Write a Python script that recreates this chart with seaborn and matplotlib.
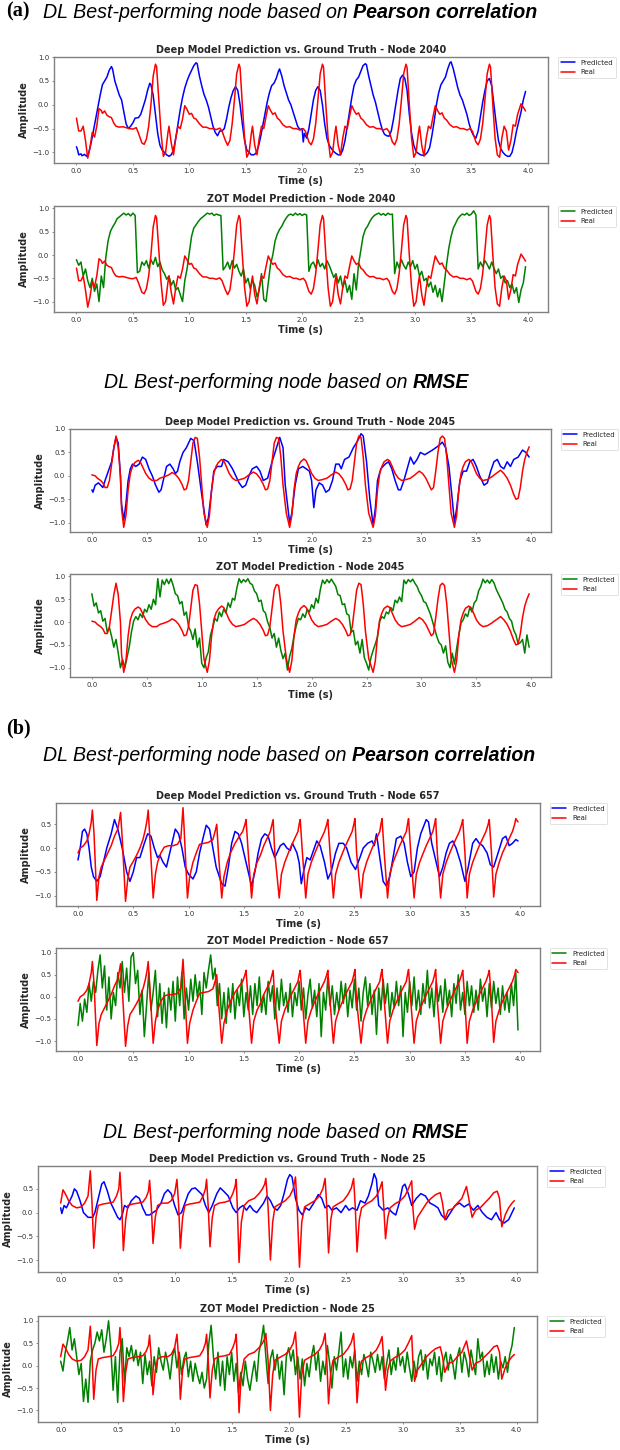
import numpy as np
import matplotlib
matplotlib.use("Agg")
import matplotlib.pyplot as plt
import seaborn as sns

# ---------------------------------------------------------------
# Data (time in s, amplitude)
# ---------------------------------------------------------------

# node 2040 -- ground truth
real_2040 = [
    (0.00, -0.28), (0.02, -0.55), (0.04, -0.55), (0.06, -0.45), (0.08, -0.75), (0.10, -1.12),
    (0.12, -0.90), (0.14, -0.58), (0.16, -0.68), (0.18, -0.45), (0.20, -0.08), (0.22, -0.12),
    (0.23, -0.18), (0.25, -0.13), (0.27, -0.22), (0.29, -0.25), (0.31, -0.27), (0.33, -0.38),
    (0.35, -0.45), (0.38, -0.47), (0.41, -0.46), (0.44, -0.48), (0.47, -0.50), (0.50, -0.51),
    (0.53, -0.48), (0.55, -0.60), (0.58, -0.80), (0.60, -0.83), (0.62, -0.72), (0.64, -0.45),
    (0.66, 0.00), (0.68, 0.60), (0.70, 0.85), (0.71, 0.80), (0.73, 0.10), (0.75, -0.60),
    (0.77, -1.08), (0.79, -1.00), (0.81, -0.60), (0.82, -0.45), (0.84, -0.80), (0.86, -1.05),
    (0.88, -0.70), (0.90, -0.45), (0.92, -0.50), (0.94, -0.30), (0.96, -0.02), (0.98, -0.10),
    (1.00, -0.20), (1.02, -0.18), (1.04, -0.28), (1.06, -0.30), (1.09, -0.40), (1.12, -0.47),
    (1.15, -0.47), (1.18, -0.50), (1.21, -0.50), (1.24, -0.52), (1.27, -0.49), (1.29, -0.55),
    (1.32, -0.75), (1.34, -0.85), (1.36, -0.75), (1.38, -0.40), (1.40, 0.10), (1.42, 0.65),
    (1.44, 0.85), (1.45, 0.78), (1.47, 0.00), (1.49, -0.70), (1.51, -1.10), (1.53, -1.00),
    (1.55, -0.60), (1.56, -0.45), (1.58, -0.85), (1.60, -1.05), (1.62, -0.70), (1.64, -0.45),
    (1.66, -0.50), (1.68, -0.25), (1.70, -0.02), (1.72, -0.12), (1.74, -0.20), (1.76, -0.17),
    (1.78, -0.28), (1.80, -0.32), (1.83, -0.42), (1.86, -0.47), (1.89, -0.46), (1.92, -0.50),
    (1.95, -0.50), (1.98, -0.53), (2.01, -0.50), (2.03, -0.56), (2.06, -0.78), (2.08, -0.84),
    (2.10, -0.72), (2.12, -0.40), (2.14, 0.10), (2.16, 0.65), (2.18, 0.85), (2.19, 0.78),
    (2.21, 0.00), (2.23, -0.70), (2.25, -1.10), (2.27, -1.00), (2.29, -0.60), (2.30, -0.45),
    (2.32, -0.85), (2.34, -1.05), (2.36, -0.70), (2.38, -0.45), (2.40, -0.50), (2.42, -0.25),
    (2.44, -0.02), (2.46, -0.12), (2.48, -0.20), (2.50, -0.17), (2.52, -0.28), (2.54, -0.32),
    (2.57, -0.42), (2.60, -0.47), (2.63, -0.46), (2.66, -0.50), (2.69, -0.50), (2.72, -0.53),
    (2.75, -0.50), (2.77, -0.56), (2.80, -0.78), (2.82, -0.84), (2.84, -0.72), (2.86, -0.40),
    (2.88, 0.10), (2.90, 0.65), (2.92, 0.85), (2.93, 0.78), (2.95, 0.00), (2.97, -0.70),
    (2.99, -1.10), (3.01, -1.00), (3.03, -0.60), (3.04, -0.45), (3.06, -0.85), (3.08, -1.08),
    (3.10, -0.70), (3.12, -0.45), (3.14, -0.50), (3.16, -0.25), (3.18, -0.02), (3.20, -0.12),
    (3.22, -0.20), (3.24, -0.17), (3.26, -0.28), (3.28, -0.32), (3.31, -0.42), (3.34, -0.47),
    (3.37, -0.46), (3.40, -0.50), (3.43, -0.50), (3.46, -0.53), (3.49, -0.50), (3.51, -0.56),
    (3.54, -0.78), (3.56, -0.84), (3.58, -0.72), (3.60, -0.40), (3.62, 0.10), (3.64, 0.65),
    (3.66, 0.85), (3.67, 0.78), (3.69, 0.00), (3.71, -0.70), (3.73, -1.05), (3.75, -1.10),
    (3.77, -0.70), (3.79, -0.45), (3.81, -0.55), (3.83, -0.95), (3.85, -0.75), (3.87, -0.42),
    (3.89, -0.45), (3.91, -0.20), (3.94, 0.02), (3.96, -0.05), (3.98, -0.13),
]

# node 2040 -- deep model
deep_2040 = [
    (0.00, -0.88), (0.01, -0.95), (0.02, -1.05), (0.04, -1.03), (0.05, -1.07), (0.07, -1.04),
    (0.09, -1.08), (0.11, -1.00), (0.13, -0.80), (0.15, -0.55), (0.17, -0.30), (0.19, -0.05),
    (0.21, 0.20), (0.23, 0.42), (0.25, 0.50), (0.27, 0.58), (0.29, 0.72), (0.31, 0.80),
    (0.32, 0.75), (0.34, 0.50), (0.36, 0.35), (0.38, 0.20), (0.40, 0.10), (0.42, -0.15),
    (0.44, -0.40), (0.46, -0.50), (0.48, -0.45), (0.50, -0.38), (0.52, -0.28), (0.55, -0.27),
    (0.57, -0.20), (0.59, -0.05), (0.61, 0.10), (0.63, 0.30), (0.65, 0.45), (0.66, 0.42),
    (0.68, 0.20), (0.70, -0.20), (0.72, -0.60), (0.74, -0.85), (0.76, -0.95), (0.78, -1.00),
    (0.80, -1.05), (0.82, -1.08), (0.84, -1.05), (0.86, -0.95), (0.88, -0.70), (0.90, -0.40),
    (0.92, -0.10), (0.94, 0.15), (0.96, 0.35), (0.98, 0.50), (1.00, 0.62), (1.02, 0.72),
    (1.04, 0.82), (1.06, 0.88), (1.07, 0.86), (1.09, 0.60), (1.11, 0.40), (1.13, 0.22),
    (1.15, 0.10), (1.17, -0.05), (1.19, -0.25), (1.21, -0.45), (1.23, -0.58), (1.25, -0.65),
    (1.27, -0.55), (1.29, -0.55), (1.31, -0.50), (1.33, -0.30), (1.35, -0.05), (1.37, 0.15),
    (1.39, 0.30), (1.41, 0.38), (1.43, 0.30), (1.45, 0.00), (1.47, -0.40), (1.49, -0.75),
    (1.51, -0.95), (1.53, -1.00), (1.55, -1.05), (1.57, -1.05), (1.59, -1.02), (1.61, -0.90),
    (1.63, -0.70), (1.65, -0.45), (1.67, -0.20), (1.69, 0.05), (1.71, 0.25), (1.73, 0.40),
    (1.75, 0.45), (1.77, 0.55), (1.79, 0.70), (1.80, 0.75), (1.82, 0.60), (1.84, 0.40),
    (1.86, 0.25), (1.88, 0.10), (1.90, 0.00), (1.92, -0.15), (1.94, -0.30), (1.96, -0.45),
    (1.98, -0.52), (2.00, -0.50), (2.01, -0.78), (2.02, -0.60), (2.04, -0.70), (2.06, -0.50),
    (2.08, -0.20), (2.10, 0.10), (2.12, 0.30), (2.14, 0.38), (2.16, 0.30), (2.18, 0.00),
    (2.20, -0.40), (2.22, -0.70), (2.24, -0.85), (2.26, -0.92), (2.28, -0.98), (2.30, -1.02),
    (2.32, -1.05), (2.34, -1.05), (2.36, -0.95), (2.38, -0.75), (2.40, -0.45), (2.42, -0.15),
    (2.44, 0.15), (2.46, 0.40), (2.48, 0.52), (2.50, 0.58), (2.52, 0.70), (2.54, 0.82),
    (2.56, 0.86), (2.57, 0.84), (2.59, 0.60), (2.61, 0.40), (2.63, 0.20), (2.65, 0.05),
    (2.67, -0.15), (2.69, -0.35), (2.71, -0.52), (2.73, -0.62), (2.75, -0.65), (2.77, -0.66),
    (2.79, -0.55), (2.81, -0.30), (2.83, 0.00), (2.85, 0.30), (2.87, 0.55), (2.89, 0.62),
    (2.91, 0.55), (2.93, 0.30), (2.95, -0.20), (2.97, -0.60), (2.99, -0.85), (3.01, -0.98),
    (3.03, -1.02), (3.05, -1.05), (3.07, -1.06), (3.09, -1.05), (3.11, -1.00), (3.13, -0.90),
    (3.15, -0.65), (3.17, -0.35), (3.19, 0.00), (3.21, 0.25), (3.23, 0.42), (3.25, 0.50),
    (3.27, 0.58), (3.29, 0.75), (3.31, 0.88), (3.32, 0.90), (3.34, 0.75), (3.36, 0.55),
    (3.38, 0.35), (3.40, 0.20), (3.42, 0.10), (3.44, -0.05), (3.46, -0.20), (3.48, -0.40),
    (3.50, -0.55), (3.52, -0.65), (3.54, -0.70), (3.56, -0.55), (3.58, -0.25), (3.60, 0.05),
    (3.62, 0.30), (3.64, 0.50), (3.66, 0.55), (3.68, 0.40), (3.70, 0.00), (3.72, -0.40),
    (3.74, -0.75), (3.76, -0.92), (3.78, -1.00), (3.80, -1.05), (3.82, -1.08), (3.84, -1.08),
    (3.86, -1.00), (3.88, -0.80), (3.90, -0.55), (3.92, -0.35), (3.94, -0.15), (3.96, 0.10),
    (3.98, 0.28),
]

# node 2040 -- ZOT model, one value every 0.02 s
zot_2040 = [
    -0.10, -0.22, -0.15, -0.45, -0.30, -0.55, -0.70, -0.50, -0.78, -0.62,
    -1.00, -0.45, -0.70, -0.05, 0.30, 0.50, 0.60, 0.68, 0.78, 0.82,
    0.86, 0.90, 0.86, 0.89, 0.84, 0.90, 0.85, -0.38, -0.35, -0.15,
    -0.22, -0.12, -0.28, -0.10, -0.20, -0.05, -0.25, -0.15, -0.32, -0.40,
    -0.52, -0.45, -0.65, -0.55, -0.75, -0.70, -0.85, -1.00, -0.55, -0.30,
    0.05, 0.40, 0.58, 0.65, 0.72, 0.78, 0.82, 0.86, 0.90, 0.88,
    0.90, 0.85, 0.88, 0.86, 0.85, -0.32, -0.25, -0.15, -0.30, -0.12,
    -0.28, -0.20, -0.35, -0.45, -0.30, -0.60, -0.50, -0.72, -0.55, -0.65,
    -0.90, -0.75, -0.40, -0.95, -1.00, -0.60, -0.20, 0.00, 0.30, 0.45,
    0.55, 0.62, 0.72, 0.80, 0.86, 0.88, 0.85, 0.90, 0.86, 0.89,
    0.85, 0.88, 0.86, -0.35, -0.20, -0.15, -0.28, -0.10, -0.25, -0.18,
    -0.30, -0.12, -0.22, -0.35, -0.48, -0.40, -0.60, -0.45, -0.70, -0.55,
    -0.80, -0.65, -0.95, -0.40, -0.75, -0.20, 0.10, 0.40, 0.55, 0.62,
    0.72, 0.80, 0.85, 0.88, 0.90, 0.86, 0.89, 0.85, 0.90, 0.87,
    0.88, -0.40, -0.15, -0.28, -0.10, -0.22, -0.30, -0.15, -0.25, -0.12,
    -0.30, -0.20, -0.45, -0.35, -0.55, -0.50, -0.68, -0.58, -0.80, -0.65,
    -0.90, -0.72, -1.00, -0.60, -0.20, 0.15, 0.40, 0.58, 0.68, 0.78,
    0.84, 0.88, 0.86, 0.90, 0.85, 0.88, 0.95, 0.86, -0.30, -0.15,
    -0.25, -0.12, -0.20, -0.30, -0.15, -0.28, -0.40, -0.30, -0.50, -0.45,
    -0.60, -0.55, -0.70, -0.62, -0.82, -0.70, -1.02, -0.75, -0.60, -0.25,
]

# node 2045 -- ground truth
real_2045 = [
    (0.00, 0.02), (0.03, 0.00), (0.05, -0.05), (0.08, -0.10), (0.10, -0.15), (0.12, -0.25),
    (0.14, -0.25), (0.16, -0.10), (0.18, 0.25), (0.20, 0.60), (0.22, 0.85), (0.24, 0.60),
    (0.26, 0.00), (0.27, -0.70), (0.29, -1.10), (0.31, -0.85), (0.33, -0.30), (0.35, 0.05),
    (0.37, 0.20), (0.39, 0.28), (0.42, 0.33), (0.44, 0.30), (0.46, 0.20), (0.49, 0.05),
    (0.52, -0.05), (0.55, -0.10), (0.59, -0.10), (0.62, -0.05), (0.66, -0.02), (0.70, 0.02),
    (0.73, 0.07), (0.76, 0.03), (0.79, -0.05), (0.82, -0.18), (0.84, -0.30), (0.86, -0.28),
    (0.88, -0.10), (0.90, 0.30), (0.92, 0.70), (0.94, 0.82), (0.96, 0.80), (0.98, 0.40),
    (1.00, -0.20), (1.02, -0.80), (1.05, -1.10), (1.07, -0.85), (1.09, -0.30), (1.11, 0.05),
    (1.13, 0.20), (1.15, 0.28), (1.18, 0.35), (1.20, 0.32), (1.22, 0.22), (1.25, 0.05),
    (1.28, -0.05), (1.31, -0.10), (1.35, -0.08), (1.39, -0.05), (1.43, 0.02), (1.47, 0.08),
    (1.50, 0.04), (1.53, -0.05), (1.56, -0.18), (1.58, -0.30), (1.60, -0.28), (1.62, -0.10),
    (1.64, 0.30), (1.66, 0.70), (1.68, 0.82), (1.70, 0.80), (1.72, 0.40), (1.74, -0.20),
    (1.77, -0.80), (1.80, -1.10), (1.82, -0.85), (1.84, -0.30), (1.86, 0.05), (1.88, 0.20),
    (1.90, 0.30), (1.93, 0.36), (1.95, 0.32), (1.97, 0.22), (2.00, 0.05), (2.03, -0.05),
    (2.06, -0.10), (2.10, -0.08), (2.14, -0.05), (2.18, 0.02), (2.22, 0.08), (2.25, 0.04),
    (2.28, -0.05), (2.31, -0.18), (2.33, -0.30), (2.35, -0.28), (2.37, -0.10), (2.39, 0.30),
    (2.41, 0.70), (2.43, 0.85), (2.45, 0.82), (2.47, 0.40), (2.49, -0.20), (2.52, -0.80),
    (2.56, -1.10), (2.58, -0.85), (2.60, -0.30), (2.62, 0.05), (2.64, 0.20), (2.66, 0.30),
    (2.69, 0.35), (2.71, 0.32), (2.73, 0.22), (2.76, 0.05), (2.79, -0.05), (2.82, -0.10),
    (2.86, -0.08), (2.90, -0.05), (2.94, 0.02), (2.98, 0.10), (3.01, 0.05), (3.04, -0.05),
    (3.07, -0.20), (3.09, -0.30), (3.11, -0.25), (3.13, 0.10), (3.15, 0.50), (3.17, 0.80),
    (3.19, 0.85), (3.21, 0.80), (3.23, 0.40), (3.25, -0.20), (3.27, -0.80), (3.30, -1.10),
    (3.32, -0.85), (3.34, -0.30), (3.36, 0.05), (3.38, 0.20), (3.40, 0.30), (3.43, 0.35),
    (3.45, 0.32), (3.47, 0.22), (3.50, 0.05), (3.53, -0.05), (3.56, -0.10), (3.60, -0.08),
    (3.64, -0.02), (3.68, 0.05), (3.72, 0.12), (3.75, 0.05), (3.78, -0.05), (3.81, -0.20),
    (3.84, -0.40), (3.86, -0.50), (3.88, -0.48), (3.90, -0.25), (3.92, 0.10), (3.94, 0.35),
    (3.96, 0.50), (3.98, 0.62),
]

# node 2045 -- deep model
deep_2045 = [
    (0.00, -0.30), (0.01, -0.35), (0.03, -0.20), (0.06, -0.15), (0.08, -0.20), (0.10, -0.25),
    (0.12, -0.10), (0.15, 0.10), (0.18, 0.30), (0.20, 0.60), (0.22, 0.82), (0.24, 0.70),
    (0.26, 0.00), (0.27, -0.60), (0.29, -0.95), (0.31, -0.60), (0.33, -0.10), (0.35, 0.15),
    (0.37, 0.25), (0.40, 0.20), (0.43, 0.25), (0.46, 0.40), (0.49, 0.35), (0.52, 0.15),
    (0.55, 0.00), (0.58, -0.20), (0.61, -0.35), (0.63, -0.30), (0.65, -0.10), (0.68, 0.20),
    (0.71, 0.25), (0.74, 0.15), (0.76, 0.05), (0.78, 0.10), (0.80, 0.30), (0.83, 0.50),
    (0.86, 0.60), (0.90, 0.80), (0.93, 0.75), (0.96, 0.30), (1.00, -0.40), (1.04, -1.05),
    (1.06, -0.90), (1.09, -0.30), (1.11, 0.10), (1.14, 0.20), (1.18, 0.20), (1.20, 0.35),
    (1.24, 0.30), (1.28, 0.15), (1.31, 0.00), (1.34, -0.15), (1.37, -0.25), (1.40, -0.20),
    (1.43, 0.00), (1.46, 0.15), (1.50, 0.20), (1.53, 0.10), (1.56, -0.10), (1.60, -0.05),
    (1.64, 0.30), (1.68, 0.60), (1.71, 0.82), (1.74, 0.60), (1.76, -0.20), (1.80, -1.00),
    (1.82, -0.80), (1.85, -0.20), (1.88, 0.15), (1.92, 0.20), (1.95, 0.15), (1.98, 0.10),
    (2.00, -0.10), (2.02, -0.68), (2.04, -0.30), (2.07, -0.15), (2.10, -0.20), (2.13, -0.35),
    (2.16, -0.30), (2.19, -0.10), (2.22, 0.25), (2.25, 0.25), (2.27, 0.15), (2.30, 0.35),
    (2.34, 0.40), (2.38, 0.60), (2.42, 0.75), (2.45, 0.90), (2.47, 0.85), (2.50, 0.30),
    (2.53, -0.50), (2.56, -1.05), (2.58, -0.70), (2.60, -0.10), (2.63, 0.15), (2.67, 0.25),
    (2.70, 0.30), (2.73, 0.15), (2.76, -0.10), (2.79, -0.30), (2.81, -0.30), (2.84, -0.10),
    (2.87, 0.15), (2.90, 0.40), (2.93, 0.25), (2.96, 0.35), (2.99, 0.50), (3.03, 0.45),
    (3.10, 0.55), (3.16, 0.65), (3.19, 0.72), (3.22, 0.60), (3.25, 0.20), (3.28, -0.50),
    (3.30, -1.00), (3.32, -0.70), (3.35, -0.10), (3.38, 0.10), (3.41, 0.10), (3.44, 0.30),
    (3.47, 0.35), (3.50, 0.20), (3.53, 0.00), (3.57, -0.20), (3.60, -0.15), (3.63, 0.10),
    (3.66, 0.30), (3.69, 0.35), (3.72, 0.20), (3.75, 0.15), (3.78, 0.30), (3.81, 0.20),
    (3.84, 0.35), (3.88, 0.40), (3.92, 0.55), (3.95, 0.50), (3.98, 0.40),
]

# node 2045 -- ZOT model, one value every 0.02 s
zot_2045 = [
    0.62, 0.35, 0.42, 0.20, 0.25, 0.02, 0.08, -0.22, -0.12, -0.32,
    -0.55, -0.38, -0.68, -1.00, -0.82, -1.00, -0.78, -0.55, -0.22, 0.02,
    0.12, 0.05, 0.18, 0.10, 0.28, 0.22, 0.38, 0.28, 0.50, 0.38,
    0.95, 0.55, 0.92, 0.82, 0.94, 0.84, 0.95, 0.80, 0.62, 0.58,
    0.40, 0.45, 0.15, 0.22, -0.10, -0.20, -0.38, -0.15, -0.55, -0.35,
    -0.90, -1.00, -0.78, -0.65, -0.28, -0.12, 0.08, 0.02, 0.22, 0.12,
    0.28, 0.20, 0.42, 0.32, 0.52, 0.48, 0.75, 0.95, 0.86, 0.93,
    0.88, 0.95, 0.85, 0.82, 0.68, 0.62, 0.45, 0.48, 0.25, 0.20,
    0.00, -0.12, -0.35, -0.25, -0.55, -0.35, -0.62, -0.80, -0.68, -1.05,
    -0.75, -0.58, -0.30, -0.08, 0.08, 0.05, 0.18, 0.10, 0.28, 0.22,
    0.38, 0.30, 0.52, 0.42, 0.72, 0.92, 0.84, 0.93, 0.86, 0.94,
    0.86, 0.78, 0.60, 0.58, 0.38, 0.40, 0.18, 0.15, -0.22, -0.18,
    -0.50, -0.42, -0.68, -0.38, -0.78, -0.90, -1.05, -0.78, -0.62, -0.48,
    -0.32, 0.02, 0.12, 0.08, 0.22, 0.18, 0.32, 0.25, 0.48, 0.42,
    0.55, 0.45, 0.92, 0.84, 0.93, 0.88, 0.94, 0.85, 0.78, 0.66,
    0.58, 0.45, 0.42, 0.30, 0.18, 0.02, -0.15, -0.32, -0.45, -0.50,
    -0.68, -0.52, -0.88, -1.00, -0.68, -0.92, -0.58, -0.28, -0.02, 0.05,
    0.18, 0.12, 0.32, 0.22, 0.42, 0.48, 0.68, 0.78, 0.94, 0.86,
    0.92, 0.85, 0.93, 0.86, 0.72, 0.62, 0.52, 0.42, 0.28, 0.22,
    0.08, 0.02, -0.18, -0.28, -0.48, -0.45, -0.38, -0.68, -0.28, -0.55,
]

# node 657 -- ground truth
real_657 = [
    (0.00, -0.10), (0.02, 0.00), (0.05, 0.05), (0.08, 0.15), (0.10, 0.30), (0.12, 0.55),
    (0.13, 0.80), (0.145, 0.30), (0.17, -1.10), (0.19, -0.60), (0.21, -0.40), (0.24, -0.25),
    (0.27, -0.10), (0.30, 0.05), (0.33, 0.25), (0.36, 0.40), (0.375, 0.60), (0.385, 0.75),
    (0.40, 0.20), (0.43, -1.12), (0.45, -0.65), (0.47, -0.40), (0.50, -0.28), (0.53, -0.15),
    (0.56, 0.00), (0.59, 0.20), (0.61, 0.40), (0.625, 0.60), (0.635, 0.80), (0.65, 0.20),
    (0.68, -1.05), (0.70, -0.55), (0.72, -0.30), (0.75, -0.10), (0.78, 0.02), (0.82, 0.05),
    (0.86, 0.05), (0.90, 0.08), (0.93, 0.20), (0.95, 0.85), (0.96, 0.40), (0.99, -1.05),
    (1.01, -0.60), (1.04, -0.30), (1.07, -0.10), (1.10, 0.08), (1.14, 0.10), (1.18, 0.12),
    (1.22, 0.18), (1.24, 0.35), (1.255, 0.50), (1.27, -0.10), (1.30, -1.05), (1.32, -0.60),
    (1.35, -0.30), (1.38, -0.10), (1.42, 0.10), (1.46, 0.25), (1.49, 0.35), (1.51, 0.50),
    (1.52, 0.60), (1.54, -0.10), (1.57, -1.05), (1.59, -0.55), (1.62, -0.30), (1.65, -0.15),
    (1.68, 0.05), (1.71, 0.20), (1.74, 0.35), (1.755, 0.50), (1.765, 0.60), (1.78, -0.10),
    (1.82, -1.05), (1.84, -0.55), (1.87, -0.30), (1.90, -0.12), (1.93, 0.05), (1.96, 0.20),
    (1.99, 0.35), (2.00, 0.50), (2.01, 0.60), (2.03, -0.10), (2.06, -1.05), (2.08, -0.55),
    (2.11, -0.30), (2.14, -0.12), (2.17, 0.05), (2.20, 0.20), (2.23, 0.35), (2.25, 0.50),
    (2.26, 0.60), (2.28, -0.10), (2.31, -1.05), (2.33, -0.55), (2.36, -0.30), (2.39, -0.12),
    (2.42, 0.05), (2.45, 0.20), (2.48, 0.35), (2.495, 0.50), (2.505, 0.62), (2.52, -0.10),
    (2.56, -1.05), (2.58, -0.55), (2.61, -0.30), (2.64, -0.12), (2.67, 0.05), (2.70, 0.20),
    (2.73, 0.35), (2.74, 0.50), (2.75, 0.62), (2.77, -0.10), (2.80, -1.05), (2.82, -0.55),
    (2.85, -0.30), (2.88, -0.12), (2.91, 0.05), (2.94, 0.20), (2.97, 0.35), (2.98, 0.50),
    (2.99, 0.62), (3.01, -0.10), (3.04, -1.05), (3.06, -0.55), (3.09, -0.30), (3.12, -0.12),
    (3.15, 0.05), (3.18, 0.20), (3.21, 0.35), (3.225, 0.50), (3.235, 0.62), (3.25, -0.10),
    (3.28, -1.05), (3.30, -0.55), (3.33, -0.30), (3.36, -0.12), (3.39, 0.05), (3.42, 0.20),
    (3.45, 0.35), (3.47, 0.50), (3.48, 0.60), (3.50, -0.10), (3.52, -1.05), (3.54, -0.55),
    (3.57, -0.30), (3.60, -0.12), (3.63, 0.05), (3.66, 0.20), (3.69, 0.35), (3.71, 0.50),
    (3.72, 0.60), (3.74, -0.10), (3.76, -1.03), (3.78, -0.55), (3.81, -0.30), (3.84, -0.10),
    (3.87, 0.05), (3.90, 0.20), (3.93, 0.35), (3.95, 0.50), (3.96, 0.62), (3.98, 0.55),
]

# node 657 -- deep model
deep_657 = [
    (0.00, -0.25), (0.02, 0.00), (0.04, 0.35), (0.06, 0.40), (0.08, 0.30), (0.10, 0.00),
    (0.12, -0.40), (0.14, -0.60), (0.17, -0.70), (0.20, -0.60), (0.23, -0.30), (0.26, 0.00),
    (0.30, 0.30), (0.33, 0.60), (0.36, 0.40), (0.40, 0.00), (0.44, -0.50), (0.47, -0.70),
    (0.50, -0.50), (0.53, -0.20), (0.56, -0.20), (0.60, 0.10), (0.63, 0.30), (0.66, 0.25),
    (0.69, 0.00), (0.72, -0.20), (0.74, -0.15), (0.77, -0.30), (0.80, -0.40), (0.83, -0.10),
    (0.88, 0.40), (0.91, 0.30), (0.94, 0.00), (0.97, -0.40), (1.00, -0.55), (1.04, -0.65),
    (1.07, -0.50), (1.10, -0.10), (1.13, 0.20), (1.16, 0.48), (1.19, 0.40), (1.22, 0.00),
    (1.25, -0.40), (1.30, -0.75), (1.33, -0.80), (1.36, -0.40), (1.39, 0.10), (1.42, 0.35),
    (1.45, 0.30), (1.48, 0.10), (1.51, -0.20), (1.55, -0.60), (1.57, -0.80), (1.60, -0.50),
    (1.63, -0.10), (1.66, 0.20), (1.69, 0.30), (1.72, 0.25), (1.75, 0.00), (1.78, -0.20),
    (1.80, -0.10), (1.83, 0.05), (1.86, 0.10), (1.89, 0.00), (1.92, -0.05), (1.94, 0.10),
    (1.96, 0.00), (1.98, -0.10), (2.00, -0.30), (2.02, -0.75), (2.04, -0.50), (2.07, -0.20),
    (2.10, -0.25), (2.13, -0.05), (2.16, 0.15), (2.19, 0.05), (2.23, -0.30), (2.26, -0.65),
    (2.29, -0.50), (2.33, -0.10), (2.36, 0.10), (2.40, 0.10), (2.43, 0.00), (2.47, -0.30),
    (2.51, -0.45), (2.55, -0.20), (2.58, 0.00), (2.62, 0.10), (2.66, 0.15), (2.68, 0.05),
    (2.70, 0.30), (2.73, -0.20), (2.76, -0.70), (2.79, -0.80), (2.82, -0.60), (2.85, -0.20),
    (2.88, 0.20), (2.92, 0.25), (2.95, 0.10), (2.98, -0.30), (3.01, -0.60), (3.04, -0.50),
    (3.07, 0.00), (3.10, 0.30), (3.15, 0.60), (3.17, 0.55), (3.20, 0.10), (3.24, -0.30),
    (3.27, -0.60), (3.30, -0.40), (3.33, -0.10), (3.36, 0.10), (3.39, 0.15), (3.42, 0.00),
    (3.46, -0.30), (3.50, -0.70), (3.53, -0.40), (3.57, 0.10), (3.60, 0.20), (3.63, 0.10),
    (3.66, 0.05), (3.70, -0.10), (3.73, -0.35), (3.76, -0.40), (3.80, -0.10), (3.84, 0.20),
    (3.87, 0.25), (3.90, 0.05), (3.93, 0.10), (3.96, 0.18), (3.98, 0.15),
]

# node 657 -- ZOT model, one value every 0.02 s
zot_657 = [
    -0.65, -0.15, -0.55, -0.05, -0.35, 0.30, -0.10, 0.35, 0.10, 0.60,
    0.95, 0.20, 0.70, -0.30, 0.45, -0.50, 0.10, -0.20, 0.55, 0.20,
    0.80, 0.10, 0.65, -0.10, 0.90, 1.00, 0.30, 0.60, -0.40, 0.15,
    -0.90, -0.20, 0.55, -0.30, 0.10, 0.60, -0.45, 0.30, -0.60, 0.10,
    -0.70, 0.20, -0.30, 0.35, -0.55, 0.45, -0.20, 0.55, -0.50, 0.20,
    -0.30, 0.40, -0.10, 0.50, 0.00, 0.35, -0.40, 0.55, 0.20, 0.60,
    0.95, 0.40, 0.65, -0.20, 0.30, -0.50, 0.10, -0.60, 0.20, -0.35,
    0.30, -0.50, 0.15, -0.20, 0.40, -0.45, 0.10, -0.30, 0.25, -0.40,
    0.30, -0.20, 0.45, -0.35, 0.05, -0.40, 0.35, -0.10, 0.25, -0.50,
    0.20, -0.30, 0.40, -0.20, 0.10, -0.35, 0.30, -0.45, 0.10, -0.20,
    0.35, -0.30, 0.20, -0.50, 0.05, 0.40, -0.25, 0.15, -0.45, 0.30,
    -0.90, 0.10, -0.30, 0.45, -0.20, 0.25, -0.40, 0.10, -0.30, 0.35,
    -0.15, 0.30, -0.45, 0.15, -0.25, 0.40, -0.30, 0.20, -0.55, 0.10,
    0.45, -0.20, 0.30, -0.40, 0.15, -0.85, 0.20, -0.30, 0.40, -0.15,
    0.30, -0.45, 0.10, -0.25, 0.35, -0.20, 0.25, -0.90, 0.10, -0.35,
    0.35, -0.20, 0.45, -0.30, 0.15, -0.40, 0.30, -0.15, 0.60, -0.25,
    0.20, -0.45, 0.35, -0.10, 0.25, -0.35, 0.40, -0.20, 0.15, -0.45,
    0.30, -0.15, 0.50, -0.30, 0.10, -0.40, 0.35, -0.20, 0.25, -0.35,
    0.15, -0.30, 0.40, -0.10, 0.20, -0.45, 0.30, -0.25, 0.35, -0.15,
    0.20, -0.40, 0.25, -0.30, 0.10, -0.35, 0.30, -0.20, 0.55, -0.75,
]

# node 25 -- ground truth
real_25 = [
    (0.00, 0.20), (0.02, 0.48), (0.04, 0.40), (0.07, 0.25), (0.10, 0.15), (0.14, 0.10),
    (0.18, 0.12), (0.21, 0.20), (0.24, 0.35), (0.26, 0.88), (0.275, 0.20), (0.29, -0.75),
    (0.31, -0.10), (0.33, 0.15), (0.37, 0.18), (0.42, 0.20), (0.46, 0.22), (0.49, 0.35),
    (0.51, 0.50), (0.52, 0.85), (0.535, 0.20), (0.55, -0.80), (0.57, -0.15), (0.59, 0.15),
    (0.63, 0.18), (0.68, 0.20), (0.72, 0.22), (0.75, 0.32), (0.77, 0.45), (0.78, 0.68),
    (0.795, 0.15), (0.81, -0.65), (0.83, -0.10), (0.85, 0.15), (0.89, 0.20), (0.94, 0.20),
    (0.97, 0.25), (1.00, 0.40), (1.02, 0.70), (1.035, 0.15), (1.05, -0.75), (1.07, -0.10),
    (1.09, 0.15), (1.13, 0.18), (1.18, 0.20), (1.22, 0.22), (1.25, 0.35), (1.27, 0.50),
    (1.28, 0.70), (1.295, 0.10), (1.31, -0.72), (1.33, -0.10), (1.35, 0.15), (1.39, 0.20),
    (1.44, 0.22), (1.48, 0.25), (1.51, 0.40), (1.53, 0.55), (1.54, 0.70), (1.55, 0.10),
    (1.565, -1.05), (1.585, -0.20), (1.61, 0.15), (1.65, 0.25), (1.70, 0.30), (1.74, 0.40),
    (1.77, 0.50), (1.79, 0.60), (1.80, 0.72), (1.82, 0.10), (1.84, -1.00), (1.86, -0.20),
    (1.88, 0.12), (1.92, 0.18), (1.97, 0.25), (2.01, 0.35), (2.04, 0.50), (2.06, 0.75),
    (2.075, 0.10), (2.095, -1.15), (2.115, -0.20), (2.14, 0.12), (2.18, 0.18), (2.23, 0.25),
    (2.27, 0.35), (2.30, 0.50), (2.32, 0.72), (2.335, 0.10), (2.35, -0.85), (2.37, -0.15),
    (2.39, 0.12), (2.43, 0.18), (2.48, 0.25), (2.52, 0.38), (2.55, 0.52), (2.57, 0.72),
    (2.585, 0.10), (2.60, -0.83), (2.62, -0.15), (2.64, 0.10), (2.68, 0.18), (2.73, 0.25),
    (2.77, 0.35), (2.80, 0.50), (2.82, 0.65), (2.835, 0.10), (2.85, -0.55), (2.87, -0.10),
    (2.89, 0.10), (2.93, 0.18), (2.98, 0.25), (3.02, 0.35), (3.05, 0.50), (3.08, 0.67),
    (3.09, 0.10), (3.105, -0.35), (3.13, -0.10), (3.17, 0.05), (3.21, 0.20), (3.25, 0.30),
    (3.29, 0.38), (3.33, 0.42), (3.35, 0.20), (3.37, -0.15), (3.40, 0.05), (3.44, 0.08),
    (3.48, 0.20), (3.52, 0.30), (3.56, 0.55), (3.58, 0.30), (3.61, -0.10), (3.64, 0.05),
    (3.68, 0.10), (3.72, 0.20), (3.76, 0.30), (3.80, 0.42), (3.83, 0.45), (3.85, 0.30),
    (3.87, -0.30), (3.90, -0.05), (3.93, 0.10), (3.96, 0.20), (3.98, 0.25),
]

# node 25 -- deep model
deep_25 = [
    (0.00, 0.10), (0.01, -0.02), (0.03, 0.15), (0.05, 0.10), (0.07, 0.20), (0.10, 0.35),
    (0.12, 0.50), (0.14, 0.45), (0.17, 0.25), (0.20, 0.00), (0.24, -0.10), (0.28, -0.10),
    (0.30, 0.00), (0.33, 0.30), (0.36, 0.60), (0.38, 0.65), (0.41, 0.45), (0.44, 0.20),
    (0.47, 0.05), (0.50, -0.10), (0.52, -0.15), (0.54, -0.05), (0.56, 0.15), (0.59, 0.10),
    (0.62, 0.25), (0.66, 0.35), (0.69, 0.30), (0.72, 0.10), (0.75, -0.05), (0.78, -0.05),
    (0.81, 0.00), (0.84, 0.05), (0.88, 0.20), (0.91, 0.40), (0.94, 0.48), (0.97, 0.40),
    (1.00, 0.15), (1.03, -0.05), (1.06, 0.00), (1.09, 0.20), (1.12, 0.40), (1.15, 0.50),
    (1.18, 0.52), (1.21, 0.45), (1.24, 0.38), (1.27, 0.15), (1.30, 0.00), (1.33, 0.15),
    (1.37, 0.40), (1.40, 0.52), (1.43, 0.45), (1.47, 0.35), (1.51, 0.10), (1.54, 0.00),
    (1.57, 0.10), (1.60, 0.15), (1.63, 0.05), (1.66, 0.15), (1.69, 0.05), (1.72, 0.00),
    (1.75, 0.10), (1.78, 0.20), (1.81, 0.35), (1.84, 0.25), (1.87, 0.10), (1.90, 0.05),
    (1.93, 0.15), (1.96, 0.40), (1.99, 0.70), (2.01, 0.80), (2.03, 0.75), (2.06, 0.30),
    (2.09, 0.05), (2.12, -0.05), (2.15, 0.10), (2.18, 0.05), (2.22, 0.20), (2.26, 0.38),
    (2.29, 0.30), (2.32, 0.10), (2.35, 0.15), (2.38, 0.05), (2.42, 0.10), (2.46, 0.00),
    (2.50, 0.15), (2.53, 0.05), (2.56, 0.10), (2.60, 0.05), (2.63, 0.25), (2.67, 0.20),
    (2.70, 0.35), (2.73, 0.60), (2.75, 0.82), (2.77, 0.70), (2.79, 0.15), (2.83, 0.05),
    (2.87, 0.10), (2.91, 0.00), (2.94, -0.05), (2.97, 0.20), (3.00, 0.55), (3.02, 0.60),
    (3.05, 0.40), (3.08, 0.15), (3.12, 0.30), (3.16, 0.40), (3.20, 0.35), (3.24, 0.20),
    (3.28, 0.15), (3.31, 0.10), (3.34, -0.05), (3.38, -0.15), (3.42, 0.00), (3.46, 0.15),
    (3.50, 0.20), (3.54, 0.12), (3.58, 0.18), (3.62, 0.05), (3.66, 0.15), (3.70, 0.00),
    (3.74, -0.10), (3.78, -0.15), (3.82, 0.00), (3.85, -0.15), (3.89, -0.22), (3.93, -0.15),
    (3.96, 0.00), (3.98, 0.10),
]

# node 25 -- ZOT model, one value every 0.02 s
zot_25 = [
    0.10, -0.12, 0.30, 0.55, 0.85, 0.35, 0.60, 0.20, -0.20, 0.05,
    -0.80, -0.30, -0.82, 0.10, 0.35, 0.50, 0.75, 0.55, 0.80, 0.30,
    0.60, 1.00, 0.40, -0.55, 0.20, -0.82, 0.30, 0.60, -0.40, 0.40,
    0.20, 0.45, 0.10, 0.35, 0.00, 0.30, -0.40, 0.25, -0.20, 0.10,
    -0.45, 0.20, -0.15, 0.40, 0.10, -0.10, 0.30, 0.05, -0.30, 0.20,
    0.40, -0.05, 0.30, -0.20, 0.15, 0.30, -0.25, 0.10, -0.35, 0.05,
    -0.20, -0.40, -0.15, -0.50, -0.30, 0.50, 0.90, 0.20, -0.30, 0.30,
    -0.45, 0.10, -0.55, 0.20, -0.20, 0.30, -0.35, 0.05, -0.60, -0.15,
    -0.45, 0.10, -0.30, -0.55, -0.20, 0.10, -0.35, 0.30, 0.55, 0.90,
    0.20, -0.40, 0.15, 0.35, -0.10, 0.25, -0.30, 0.10, -0.65, 0.20,
    0.40, 0.10, 0.35, -0.20, 0.20, -0.30, 0.15, -0.45, 0.05, -0.25,
    0.20, 0.45, -0.10, 0.30, -0.35, 0.10, -0.20, 0.45, 0.05, -0.50,
    0.20, -0.10, 0.30, 0.75, -0.25, 0.15, -0.30, 0.20, -0.05, 0.35,
    -0.35, 0.10, -0.20, 0.25, 0.05, -0.25, 0.30, 0.10, -0.15, 0.25,
    -0.10, 0.20, -0.30, 0.05, 0.35, -0.20, 0.15, -0.10, 0.40, 0.00,
    0.20, -0.15, 0.30, -0.05, -0.35, 0.10, -0.25, 0.20, 0.35, -0.10,
    0.25, -0.30, 0.15, 0.00, 0.30, -0.20, 0.20, -0.35, 0.10, 0.30,
    -0.10, 0.25, 0.05, -0.30, 0.20, 0.40, -0.15, 0.30, 0.10, -0.25,
    0.35, 0.05, -0.20, 0.60, 0.15, 0.30, -0.25, 0.10, -0.20, 0.25,
    -0.15, 0.20, -0.30, 0.10, -0.05, 0.20, -0.15, 0.25, 0.45, 0.85,
]


def as_xy(series):
    """(t, v) pairs are unzipped; plain value lists span the 0-3.98 s window."""
    if isinstance(series[0], tuple):
        t, v = zip(*series)
        return np.array(t), np.array(v)
    v = np.array(series)
    return np.linspace(0, 3.98, len(v)), v


# ---------------------------------------------------------------
# Style / layout
# ---------------------------------------------------------------
sns.set_style("ticks")
plt.rcParams['font.family'] = ['DejaVu Sans']

W, H = 620, 1450
fig = plt.figure(figsize=(W / 50, H / 50), dpi=50)

# (left, right, top, bottom) in pixels
panels = [
    ((54, 548, 57, 163), "Deep Model Prediction vs. Ground Truth - Node 2040", deep_2040, real_2040, "blue"),
    ((54, 548, 206, 312), "ZOT Model Prediction - Node 2040", zot_2040, real_2040, "green"),
    ((70, 551, 429, 532), "Deep Model Prediction vs. Ground Truth - Node 2045", deep_2045, real_2045, "blue"),
    ((70, 551, 574, 677), "ZOT Model Prediction - Node 2045", zot_2045, real_2045, "green"),
    ((56, 540, 803, 906), "Deep Model Prediction vs. Ground Truth - Node 657", deep_657, real_657, "blue"),
    ((56, 540, 948, 1051), "ZOT Model Prediction - Node 657", zot_657, real_657, "green"),
    ((38, 537, 1166, 1272), "Deep Model Prediction vs. Ground Truth - Node 25", deep_25, real_25, "blue"),
    ((38, 537, 1316, 1422), "ZOT Model Prediction - Node 25", zot_25, real_25, "green"),
]

for (l, r, t, b), title, pred, real, pcolor in panels:
    ax = fig.add_axes([l / W, 1 - b / H, (r - l) / W, (b - t) / H])
    px, py = as_xy(pred)
    rx, ry = as_xy(real)
    sns.lineplot(x=px, y=py, ax=ax, color=pcolor, linewidth=2.2, label="Predicted",
                 estimator=None, sort=False)
    sns.lineplot(x=rx, y=ry, ax=ax, color="red", linewidth=2.2, label="Real",
                 estimator=None, sort=False)
    ax.set_title(title, fontsize=14, fontweight="bold", pad=6)
    ax.set_xlabel("Time (s)", fontsize=14, fontweight="bold", labelpad=3)
    ax.set_ylabel("Amplitude", fontsize=14, fontweight="bold")
    ax.set_xticks(np.arange(0, 4.01, 0.5))
    ax.tick_params(labelsize=10, colors="#333333")
    for sp in ax.spines.values():
        sp.set_visible(True)
        sp.set_color("#808080")
        sp.set_linewidth(2)
    ax.legend(loc="upper left", bbox_to_anchor=(1.02, 1.0), borderaxespad=0, fontsize=10)

# section headings
renderer = fig.canvas.get_renderer()


def heading(x0, yc, plain, bold, target_w, label=None):
    fs = 25
    for _ in range(2):
        t1 = fig.text(x0 / W, 1 - yc / H, plain, family="Liberation Sans", style="italic",
                      fontsize=fs, va="center", ha="left", color="black")
        e1 = t1.get_window_extent(renderer)
        t2 = fig.text(e1.x1 / W, 1 - yc / H, bold, family="Liberation Sans", style="italic",
                      weight="bold", fontsize=fs, va="center", ha="left", color="black")
        e2 = t2.get_window_extent(renderer)
        width = e2.x1 - e1.x0
        if abs(width - target_w) < 2:
            break
        t1.remove()
        t2.remove()
        fs = fs * target_w / width
    if label:
        fig.text(6 / W, 1 - (yc - 1) / H, label, family="Liberation Serif", weight="bold",
                 fontsize=29, va="center", ha="left", color="black")


heading(43, 12, "DL Best-performing node based on ", "Pearson correlation", 494, "(a)")
heading(104, 383, "DL Best-performing node based on ", "RMSE", 366)
heading(43, 756, "DL Best-performing node based on ", "Pearson correlation", 493)
heading(103, 1132, "DL Best-performing node based on ", "RMSE", 366)
fig.text(6 / W, 1 - 728 / H, "(b)", family="Liberation Serif", weight="bold",
         fontsize=29, va="center", ha="left", color="black")

fig.savefig("out.png", dpi=50)
